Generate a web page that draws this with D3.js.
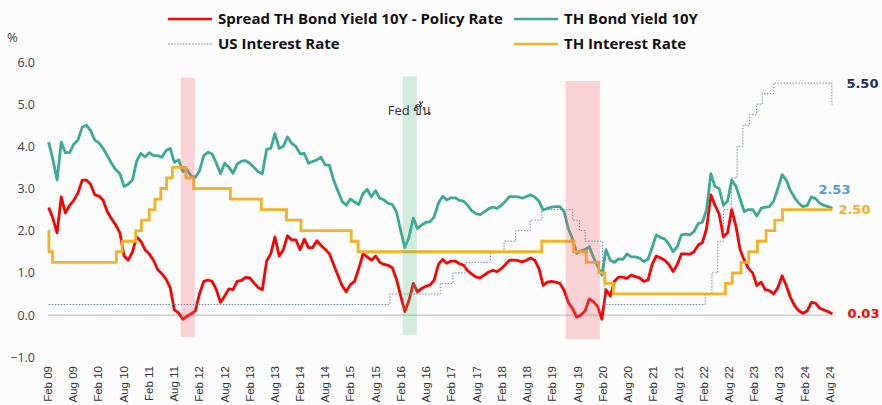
<!DOCTYPE html>
<html>
<head>
<meta charset="utf-8">
<script src="https://cdn.jsdelivr.net/npm/d3@7"></script>
<style>
  body { margin: 0; background: #fcfcfc; }
  svg { display: block; }
</style>
</head>
<body>
<svg id="chart" width="882" height="405"></svg>
<script>
// Monthly readings, first one in early March 2009
var firstReading = new Date(2009, 2, 11);

// TH government bond yield 10Y (%)
var bondYield = [
	4.1, 3.7, 3.2, 4.1, 3.85, 3.85, 4.05, 4.15, 4.45, 4.5,
	4.38, 4.15, 4.08, 3.95, 3.78, 3.6, 3.45, 3.35, 3.05, 3.1,
	3.2, 3.65, 3.83, 3.75, 3.85, 3.78, 3.78, 3.74, 3.9, 3.95,
	3.62, 3.68, 3.4, 3.45, 3.3, 3.26, 3.42, 3.78, 3.86, 3.82,
	3.6, 3.35, 3.6, 3.5, 3.36, 3.58, 3.65, 3.66, 3.6, 3.5,
	3.4, 3.35, 3.93, 3.95, 4.3, 3.95, 4.0, 4.22, 4.07, 4.0,
	3.82, 3.83, 3.6, 3.64, 3.68, 3.74, 3.56, 3.55, 3.2, 2.95,
	2.7, 2.6, 2.75, 2.68, 2.62, 2.88, 2.98, 2.8, 2.95, 2.77,
	2.73, 2.65, 2.62, 2.45, 2.0, 1.6, 1.85, 2.3, 2.05, 2.13,
	2.2, 2.21, 2.33, 2.65, 2.82, 2.73, 2.78, 2.78, 2.72, 2.7,
	2.6, 2.47, 2.4, 2.38, 2.45, 2.52, 2.56, 2.53, 2.6, 2.7,
	2.81, 2.81, 2.8, 2.77, 2.81, 2.85, 2.8, 2.7, 2.49, 2.53,
	2.56, 2.57, 2.57, 2.45, 2.05, 1.8, 1.46, 1.52, 1.55, 1.62,
	1.37, 1.15, 0.95, 1.55, 1.3, 1.25, 1.33, 1.32, 1.45, 1.38,
	1.38, 1.35, 1.27, 1.32, 1.6, 1.9, 1.84, 1.8, 1.68, 1.5,
	1.62, 1.9, 1.92, 1.9, 1.98, 2.17, 2.2, 2.5, 3.35, 3.05,
	3.0, 2.6, 2.7, 3.2, 3.05, 2.75, 2.45, 2.5, 2.5, 2.35,
	2.53, 2.56, 2.57, 2.7, 3.0, 3.33, 3.2, 2.95, 2.78, 2.65,
	2.57, 2.6, 2.8, 2.76, 2.65, 2.6, 2.57, 2.53
];

// Spread TH bond yield 10Y - policy rate (%)
var spread = [
	2.55, 2.3, 1.95, 2.8, 2.42, 2.6, 2.72, 2.89, 3.2, 3.2,
	3.1, 2.85, 2.82, 2.72, 2.45, 2.28, 2.14, 1.95, 1.4, 1.3,
	1.5, 1.85, 1.75, 1.55, 1.45, 1.3, 1.08, 0.98, 0.85, 0.65,
	0.12, 0.05, -0.1, -0.03, 0.03, 0.1, 0.5, 0.8, 0.83, 0.8,
	0.6, 0.3, 0.45, 0.62, 0.6, 0.8, 0.82, 0.89, 0.88, 0.76,
	0.65, 0.6, 1.28, 1.45, 1.85, 1.4, 1.55, 1.88, 1.78, 1.78,
	1.55, 1.8, 1.6, 1.6, 1.76, 1.65, 1.56, 1.45, 1.2, 0.95,
	0.7, 0.55, 0.72, 0.8, 1.1, 1.45, 1.38, 1.3, 1.4, 1.25,
	1.2, 1.18, 1.12, 0.85, 0.45, 0.08, 0.35, 0.75, 0.55, 0.63,
	0.68, 0.71, 0.83, 1.2, 1.32, 1.23, 1.28, 1.28, 1.22, 1.18,
	1.05, 0.97, 0.9, 0.88, 0.95, 1.02, 1.06, 1.03, 1.1, 1.2,
	1.3, 1.3, 1.29, 1.26, 1.3, 1.35, 1.3, 1.1, 0.7, 0.78,
	0.8, 0.78, 0.75, 0.58, 0.3, 0.15, -0.05, 0.0, 0.1, 0.38,
	0.32, 0.2, -0.1, 0.6, 0.45, 0.8, 0.9, 0.9, 0.87, 0.95,
	0.91, 0.88, 0.8, 0.83, 1.2, 1.4, 1.35, 1.3, 1.2, 1.03,
	1.2, 1.45, 1.45, 1.44, 1.5, 1.66, 1.72, 2.05, 2.85, 2.6,
	2.4, 1.85, 1.95, 2.5, 2.1, 1.55, 1.3, 1.1, 1.0, 0.7,
	0.78, 0.6, 0.58, 0.5, 0.65, 0.93, 0.7, 0.42, 0.22, 0.1,
	0.04, 0.1, 0.3, 0.28, 0.16, 0.12, 0.08, 0.03
];

// TH policy rate, change dates and levels
var thRateDates = ["2009-03-11", "2009-03-13", "2009-04-08", "2010-07-14", "2010-08-25",
	"2010-12-01", "2011-01-12", "2011-03-09", "2011-04-20", "2011-06-01", "2011-07-13",
	"2011-08-24", "2011-11-30", "2012-01-25", "2012-10-17", "2013-05-29", "2013-11-27",
	"2014-03-12", "2015-03-11", "2015-04-29", "2018-12-19", "2019-08-07", "2019-11-06",
	"2020-02-05", "2020-03-20", "2020-05-20", "2022-08-10", "2022-09-28", "2022-11-30",
	"2023-01-25", "2023-03-29", "2023-05-31", "2023-08-02", "2023-09-27", "2024-09-22"];
var thRateValues = [2.0, 1.5, 1.25, 1.5, 1.75,
	2.0, 2.25, 2.5, 2.75, 3.0, 3.25,
	3.5, 3.25, 3.0, 2.75, 2.5, 2.25,
	2.0, 1.75, 1.5, 1.75, 1.5, 1.25,
	1.0, 0.75, 0.5, 0.75, 1.0, 1.25,
	1.5, 1.75, 2.0, 2.25, 2.5, 2.5];

// US fed funds rate (upper bound)
var usRateDates = ["2009-03-11", "2015-12-16", "2016-12-14", "2017-03-15", "2017-06-14",
	"2017-12-13", "2018-03-21", "2018-06-13", "2018-09-26", "2018-12-19", "2019-07-31",
	"2019-09-18", "2019-10-30", "2020-03-03", "2020-03-15", "2022-03-16", "2022-05-04",
	"2022-06-15", "2022-07-27", "2022-09-21", "2022-11-02", "2022-12-14", "2023-02-01",
	"2023-03-22", "2023-05-03", "2023-07-26", "2024-09-18", "2024-09-22"];
var usRateValues = [0.25, 0.5, 0.75, 1.0, 1.25,
	1.5, 1.75, 2.0, 2.25, 2.5, 2.25,
	2.0, 1.75, 1.25, 0.25, 0.5, 1.0,
	1.75, 2.5, 3.25, 4.0, 4.5, 4.75,
	5.0, 5.25, 5.5, 5.0, 5.0];

// Highlighted periods
var bandStarts = ["2011-10-23", "2016-03-17", "2019-06-10"];
var bandEnds = ["2012-02-02", "2016-06-27", "2020-02-13"];
var bandTops = [5.63, 5.66, 5.55];
var bandBottoms = [-0.52, -0.47, -0.57];
var bandColors = ["#f06470", "#50be82", "#f06470"];

// Axis ticks
var yTicks = [-1, 0, 1, 2, 3, 4, 5, 6];
var xTickLabels = ["Feb 09", "Aug 09", "Feb 10", "Aug 10", "Feb 11", "Aug 11", "Feb 12", "Aug 12",
	"Feb 13", "Aug 13", "Feb 14", "Aug 14", "Feb 15", "Aug 15", "Feb 16", "Aug 16",
	"Feb 17", "Aug 17", "Feb 18", "Aug 18", "Feb 19", "Aug 19", "Feb 20", "Aug 20",
	"Feb 21", "Aug 21", "Feb 22", "Aug 22", "Feb 23", "Aug 23", "Feb 24", "Aug 24"];

// End-of-series labels
var endLabels = ["5.50", "2.53", "2.50", "0.03"];
var endLabelValues = [5.5, 2.53, 2.5, 0.03];

var colors = {
	spread: "#ff0000",
	bond: "#3aa995",
	us: "#7584ab",
	th: "#f2b126"
};

var parseDay = d3.timeParse("%Y-%m-%d");
var parseLabel = d3.timeParse("%b %y");

var svg = d3.select("#chart");

// Scales
var x = d3.scaleTime()
	.domain([new Date(2009, 1, 1), new Date(2024, 8, 1)])
	.range([43.4, 829.5]);
var y = d3.scaleLinear()
	.domain([-1, 6])
	.range([357.2, 62]);

// Build series
var readingDates = bondYield.map(function (v, i) {
	return d3.timeDay.offset(firstReading, Math.round(i * 30.34));
});
var bondSeries = bondYield.map(function (v, i) { return { date: readingDates[i], value: v }; });
var spreadSeries = spread.map(function (v, i) { return { date: readingDates[i], value: v }; });
var thSeries = thRateValues.map(function (v, i) { return { date: parseDay(thRateDates[i]), value: v }; });
var usSeries = usRateValues.map(function (v, i) { return { date: parseDay(usRateDates[i]), value: v }; });
var lastDate = readingDates[readingDates.length - 1];

var line = d3.line()
	.x(function (d) { return x(d.date); })
	.y(function (d) { return y(d.value); });
var stepLine = d3.line()
	.curve(d3.curveStepAfter)
	.x(function (d) { return x(d.date); })
	.y(function (d) { return y(d.value); });

// Y axis
var yAxis = svg.append("g")
	.attr("transform", "translate(35,0)")
	.call(d3.axisLeft(y).tickValues(yTicks).tickSize(0).tickPadding(0).tickFormat(d3.format(".1f")));
yAxis.select(".domain").remove();
yAxis.selectAll("text")
	.attr("fill", "#404040")
	.style("font-family", "'Open Sans', sans-serif")
	.style("font-size", "12.5px");

svg.append("text")
	.attr("x", 7)
	.attr("y", 42)
	.attr("fill", "#404040")
	.style("font-family", "'Open Sans', sans-serif")
	.style("font-size", "13px")
	.text("%");

// X axis, rotated labels
var tickDates = xTickLabels.map(function (s) { return d3.timeMonth.offset(parseLabel(s), 1); });
var xAxis = svg.append("g")
	.attr("transform", "translate(0,366)")
	.call(d3.axisBottom(x).tickValues(tickDates).tickSize(0)
		.tickFormat(function (d, i) { return xTickLabels[i]; }));
xAxis.select(".domain").remove();
xAxis.selectAll("text")
	.attr("x", 0)
	.attr("y", 0)
	.attr("dy", "0.35em")
	.attr("transform", "rotate(-90)")
	.attr("fill", "#333")
	.style("text-anchor", "end")
	.style("font-family", "'Liberation Sans', Arial, sans-serif")
	.style("font-size", "11.5px");

// Zero line
svg.append("line")
	.attr("x1", x(readingDates[0]) - 1)
	.attr("x2", x(lastDate) + 2)
	.attr("y1", y(0))
	.attr("y2", y(0))
	.attr("stroke", "#c6c6c6")
	.attr("stroke-width", 1.2);

// Series
svg.append("path")
	.datum(spreadSeries)
	.attr("d", line)
	.attr("fill", "none")
	.attr("stroke", colors.spread)
	.attr("stroke-width", 2.8)
	.attr("stroke-linejoin", "round");

svg.append("path")
	.datum(bondSeries)
	.attr("d", line)
	.attr("fill", "none")
	.attr("stroke", colors.bond)
	.attr("stroke-width", 2.8)
	.attr("stroke-linejoin", "round");

svg.append("path")
	.datum(usSeries)
	.attr("d", stepLine)
	.attr("fill", "none")
	.attr("stroke", colors.us)
	.attr("stroke-width", 1)
	.attr("stroke-dasharray", "1.5,1.5");

svg.append("path")
	.datum(thSeries)
	.attr("d", stepLine)
	.attr("fill", "none")
	.attr("stroke", colors.th)
	.attr("stroke-width", 2.8);

// Shaded periods on top, translucent
bandStarts.forEach(function (s, i) {
	var x0 = x(parseDay(s)), x1 = x(parseDay(bandEnds[i]));
	svg.append("rect")
		.attr("x", x0)
		.attr("width", x1 - x0)
		.attr("y", y(bandTops[i]))
		.attr("height", y(bandBottoms[i]) - y(bandTops[i]))
		.attr("fill", bandColors[i])
		.attr("fill-opacity", i == 1 ? 0.25 : 0.28);
});

// Annotation for the green band
svg.append("text")
	.attr("x", x(parseDay(bandStarts[1])) - 15)
	.attr("y", 115)
	.attr("fill", "#333")
	.style("font-family", "'Open Sans', 'Noto Sans', sans-serif")
	.style("font-size", "13px")
	.text("Fed ขึ้น");

// End labels: US, bond, TH rate, spread
var endColors = ["#1f2d5c", "#5b9bd5", colors.th, colors.spread];
var endDx = [14, -14, 6, 15];
var endDy = [0, -19, 0, 0];
endLabels.forEach(function (t, i) {
	svg.append("text")
		.attr("x", x(lastDate) + endDx[i])
		.attr("y", y(endLabelValues[i]) + endDy[i])
		.attr("dy", "0.35em")
		.attr("fill", endColors[i])
		.style("font-family", "'DejaVu Sans', sans-serif")
		.style("font-weight", "bold")
		.style("font-size", "13px")
		.text(t);
});

// Legend
var legendItems = [
	{ name: "Spread TH Bond Yield 10Y - Policy Rate", color: colors.spread, x: 168, y: 19, dotted: false },
	{ name: "TH Bond Yield 10Y", color: colors.bond, x: 514, y: 19, dotted: false },
	{ name: "US Interest Rate", color: colors.us, x: 168, y: 44, dotted: true },
	{ name: "TH Interest Rate", color: colors.th, x: 514, y: 44, dotted: false }
];
var legend = svg.append("g");
legendItems.forEach(function (d) {
	legend.append("line")
		.attr("x1", d.x)
		.attr("x2", d.x + 44)
		.attr("y1", d.y)
		.attr("y2", d.y)
		.attr("stroke", d.color)
		.attr("stroke-width", d.dotted ? 1 : 2.6)
		.attr("stroke-dasharray", d.dotted ? "1.5,1.5" : null);
	legend.append("text")
		.attr("x", d.x + 50)
		.attr("y", d.y)
		.attr("dy", "0.35em")
		.attr("fill", "#111")
		.style("font-family", "'Open Sans', sans-serif")
		.style("font-weight", "bold")
		.style("font-size", "15px")
		.text(d.name);
});
</script>
</body>
</html>
